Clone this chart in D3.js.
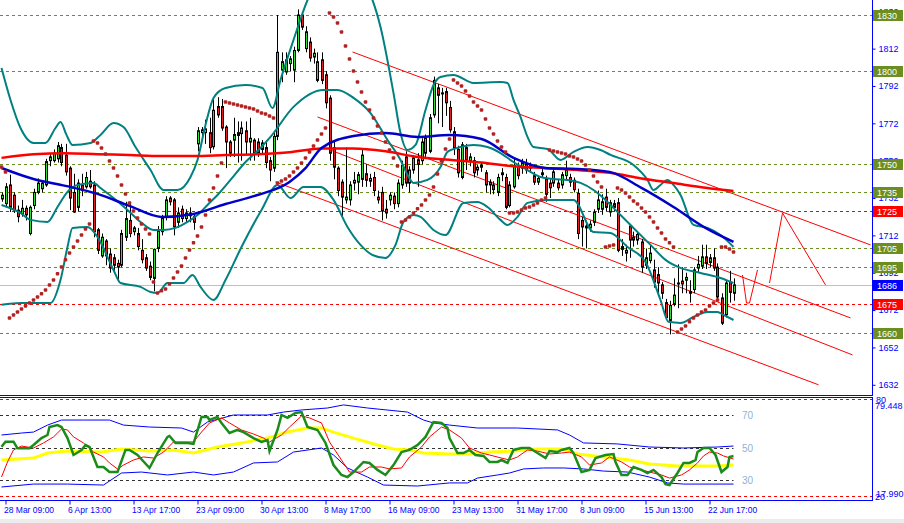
<!DOCTYPE html>
<html><head><meta charset="utf-8">
<script src="https://cdn.jsdelivr.net/npm/d3@7"></script>
<style>
body{margin:0;background:#fff;}
svg{display:block;font-family:"Liberation Sans",Arial,sans-serif;}
</style>
</head><body>
<svg id="c" width="904" height="523"></svg>
<script>
// ---------------- DATA ----------------
const dateLabels = ["28 Mar 09:00","6 Apr 13:00","13 Apr 17:00","23 Apr 09:00","30 Apr 13:00","8 May 17:00","16 May 09:00","23 May 13:00","31 May 17:00","8 Jun 09:00","15 Jun 13:00","22 Jun 17:00"];
const dateTickIdx = [1,17,33,49,65,81,97,113,129,145,161,177];
const priceTicks = [1632,1652,1672,1692,1712,1732,1752,1772,1792,1812,1832];
const oliveLevels = [1830,1800,1750,1735,1705,1695,1660];
const redLevels = [1725,1675];
const currentPrice = 1685.5;
const currentLabel = "1686";

const opens = [1731.5,1729,1739,1733.5,1725.5,1723.5,1726.5,1713,1728,1735,1737,1739,1752,1752,1753,1759,1755,1748,1735,1727,
1739,1738,1741,1739,1715,1701,1709,1702,1700,1697,1696,1711,1720,1714,1713,1704,1700,1695.5,1689,1705,
1714,1722,1732,1731,1719,1726,1721,1724,1722,1761,1767,1767,1767,1759.5,1781,1781,1770,1762,1763,1767,
1766.5,1768,1762,1763,1762,1758,1759,1752,1748,1765,1800.5,1799.5,1804,1800.5,1811,1830,1812,1815.5,1807.5,1795,
1806,1798,1785.5,1759,1748,1740.5,1731,1731,1740,1740.5,1742,1745,1741,1743,1732.5,1735,1726,1731,1733,1729,
1739,1754,1740,1747,1752.5,1752,1756,1757,1776.5,1791,1788,1789,1780.5,1767.5,1758,1743,1759,1752,1752,1747,
1749.5,1745.5,1740.5,1739,1735,1744.5,1743,1728,1738,1749,1748,1750,1749.5,1744,1740.5,1744.5,1742,1740,1740,1740,
1739,1744,1743,1741.5,1734.5,1720,1717,1716,1719,1726,1726,1732.5,1724.5,1729,1729.5,1706,1702.5,1717,1711,1709.5,
1708.5,1696,1698.5,1693.5,1691,1685.5,1676,1666.5,1675,1686,1687.5,1688,1682,1683,1694.5,1695.5,1700.5,1697.5,1700,1695,
1678.5,1669.5,1687,1681];
const highs = [1735,1740,1744.5,1735,1728,1731,1728,1728,1737,1742.5,1741,1753,1756,1758,1762,1761,1761,1749,1745,1742,
1745,1746,1747,1741,1716,1713,1710,1705,1702,1699,1715,1730,1730,1717,1716,1710,1702,1698,1705,1717,
1723,1733,1733,1732,1727,1728,1726,1727,1724,1770,1770,1774,1775,1785,1786,1785,1771,1763,1775,1773,
1773,1773,1775,1764,1764,1763,1763,1754,1768,1830,1810,1810,1808,1813,1833,1831,1824,1818,1812,1810,
1810,1800,1787,1762,1749,1742,1759,1741,1746,1746,1758,1750,1745,1746,1736,1738,1731,1735,1735,1742,
1752,1757,1749,1755,1756,1764,1766,1777,1797,1793,1791,1791,1784,1770,1760,1762,1761,1756,1754,1750,
1751,1747,1742,1741,1745,1748,1745,1741,1753,1751,1753,1753,1751,1746,1744,1748,1744,1742,1748,1742,
1746,1752,1745,1743,1737,1722,1720,1720,1726,1736,1734,1737,1731,1731,1732,1710,1707,1718,1714,1714,
1710,1705,1707,1699,1695,1687,1678,1677,1689,1696.5,1695,1692,1688,1695,1701,1707,1707,1702,1705,1697,
1681,1688,1693,1689];
const lows = [1730,1727,1724.5,1724,1719,1722,1720,1712,1726,1734,1735,1738,1749,1751,1751,1749,1744,1725.5,1724,1725,
1733,1737,1737,1711,1702,1700,1696,1692,1693,1687,1695,1709,1711,1712,1704,1697,1693,1688,1682,1703,
1712,1720,1728,1712,1716,1719,1719,1719,1715,1757,1764,1761,1756,1758,1775,1768,1748,1754,1754,1751,
1752,1755,1752,1752,1754,1756,1748,1741,1746,1763,1794,1798,1800,1794,1810,1822,1810,1805,1804,1794,
1793,1780,1752,1742,1733,1722,1729,1728,1736,1734,1738,1738,1738,1733,1729,1720,1721,1728,1726,1727,
1737,1738,1735,1745,1738,1750,1754,1756,1775,1772,1770,1776,1767,1755,1743,1742,1747,1749,1743,1744,
1746,1735,1734,1734,1733,1741,1726,1727,1737,1742,1745,1745,1746,1739,1739,1743,1730,1732,1738,1736,
1737,1742,1738,1735,1710,1706,1705,1714,1717,1724,1723,1725,1722,1725,1703,1701,1698,1700,1706,1707,
1692,1694,1697,1684,1681,1678,1667,1659,1674,1673,1681,1681,1676,1681,1692,1694,1694,1695,1693,1677,
1664,1668,1676,1677];
const closes = [1733.5,1738,1727,1725.5,1722,1726.5,1723,1727,1735,1740,1740,1751.5,1754,1756,1760,1751,1746,1732,1724.5,1740,
1736,1743,1738,1714,1704,1711,1701,1694.5,1696,1695,1713,1721,1713,1716,1706,1699,1694.5,1689.5,1704.5,1714.5,
1721.5,1731,1730,1716.5,1724,1721,1724,1722.5,1719,1768,1768.5,1769,1759,1779,1776.5,1769.5,1762,1756,1766,1765.5,
1769.5,1762,1764,1756,1756,1761.5,1751,1747,1765,1810,1805,1806,1806.5,1811,1830,1823.5,1821,1807,1809.5,1805,
1795,1783,1756,1748.5,1736,1732.5,1732.5,1739,1741.5,1744.5,1755,1741.5,1742.5,1736,1731,1725,1724,1733.5,1729,1740,
1749.5,1740,1747,1753.5,1750,1762,1764,1775,1795,1787,1788.3,1783,1768.5,1759,1745.5,1760.5,1752.5,1754,1745.5,1748.5,
1748.5,1739,1739,1736.5,1743,1745.5,1727,1739,1749.5,1744,1751,1747,1748,1740.5,1742.5,1745.5,1734,1737.5,1746,1737.5,
1744.5,1747,1740.5,1736.5,1713,1716.5,1716,1718,1724.5,1731,1730,1727,1729.5,1727,1704,1704.5,1704,1709.5,1709.5,1712.5,
1695,1700,1702.5,1687,1686.5,1681,1668,1674.5,1680,1686.5,1686,1689.5,1681,1693.5,1696.5,1700.5,1697,1700,1694.5,1679,
1665,1686.5,1681.5,1685.5];

const sar = [1748.6,1746.0,1667.8,1669.4,1671.0,1672.6,1674.2,1675.8,1677.4,1679.0,1680.7,1682.8,1685.5,1688.1,1691.4,1695.1,1698.9,1702.6,1705.8,1709.0,
1712.2,1715.4,1718.1,1762.6,1761.5,1758.8,1755.6,1751.8,1748.1,1743.8,1739.0,1734.2,1729.4,1725.1,1721.3,1718.1,1715.4,1712.8,1687.1,1681.2,
1682.3,1683.3,1686.0,1689.2,1692.4,1695.6,1699.9,1704.2,1708.0,1711.7,1716.5,1722.9,1731.0,1737.4,1743.8,1750.8,1783.4,1782.9,1782.4,1781.8,
1781.3,1780.8,1780.2,1779.7,1778.6,1777.5,1777.0,1775.9,1774.9,1740.1,1741.1,1742.2,1743.8,1746.0,1748.1,1750.8,1753.5,1756.7,1759.9,1763.1,
1766.3,1769.5,1831.1,1828.9,1825.7,1820.9,1813.4,1806.4,1800.0,1794.1,1788.8,1783.4,1779.1,1774.9,1770.6,1766.8,1762.0,1757.7,1753.5,1749.2,
1719.2,1720.3,1721.9,1724.0,1726.2,1728.3,1731.0,1733.6,1737.9,1744.9,1751.8,1758.3,1763.6,1795.2,1793.6,1792.0,1789.3,1786.6,1783.4,1781.3,
1779.1,1774.3,1769.5,1766.3,1762.6,1759.3,1756.7,1724.0,1724.0,1724.5,1725.6,1726.7,1727.2,1728.3,1729.4,1731.0,1732.0,1757.7,1757.2,1756.7,
1756.1,1755.6,1754.5,1754.0,1752.9,1751.8,1749.7,1747.0,1743.8,1740.6,1737.9,1705.8,1706.3,1706.9,1737.4,1736.3,1734.7,1732.6,1730.4,1728.8,
1726.7,1724.5,1721.9,1719.2,1716.0,1713.3,1710.1,1708.0,1705.8,1660.3,1661.9,1663.5,1665.7,1667.8,1669.4,1671.0,1672.1,1674.2,1675.8,1677.4,
1705.8,1705.8,1704.7,1703.1];

const maSlow = [[0,1753.5],[8,1755.5],[16,1756],[24,1755.5],[32,1755],[40,1754.5],[48,1754.5],[56,1755],[64,1755.5],[72,1756.5],[80,1758.5],[88,1758.5],[96,1757],[104,1754],[112,1752.5],[120,1751],[128,1749],[136,1748],[144,1747],[152,1745.5],[160,1742.5],[168,1740],[176,1737.5],[183,1735.8]];
const maMid = [[0,1748.1],[8,1742.2],[16,1738.5],[24,1734.2],[32,1727.8],[40,1721.9],[48,1723.5],[56,1728.8],[64,1733.6],[72,1740.6],[76,1748],[80,1758.8],[88,1765.2],[96,1766.8],[104,1764.7],[112,1765.8],[120,1763.6],[128,1753.5],[136,1748.1],[144,1747.6],[152,1746],[160,1737.4],[168,1727.2],[176,1716],[183,1708.5]];

const bbUpper = [[0,1801.6],[2.25,1784.5],[4.75,1769.5],[8,1761.5],[11,1761.5],[13.5,1769.5],[14.75,1772.7],[16.25,1765.8],[17.75,1760.4],[22.25,1761.5],[24.75,1765.8],[28,1772.2],[30.5,1770],[33.5,1759.3],[37.25,1747],[40.5,1736.3],[44,1736.3],[47.25,1743.3],[49,1752.4],[51,1771.1],[53,1785.6],[56,1790.9],[61,1792.5],[65.25,1790.9],[67.75,1780.2],[69.75,1795.2],[73,1816.6],[76.5,1838],[79.75,1851.4],[86,1854.1],[91,1846.1],[92.75,1838],[94.75,1823.6],[98,1788.2],[99.75,1766.8],[101.5,1757.7],[103.5,1760.4],[106,1779.1],[108,1792.5],[109.75,1796.8],[113,1797.9],[118,1793.6],[124.75,1794.1],[126.5,1793.6],[128,1784.5],[129.75,1775.4],[131.5,1764.7],[133,1759.3],[136.5,1758.3],[139.75,1752.4],[143,1756.7],[146.5,1759.3],[149.75,1757.7],[152.25,1755.1],[158,1749.7],[161.5,1741.7],[163,1736.3],[164.75,1739],[166.5,1741.7],[168,1739],[169.75,1733.6],[173,1717.6],[176.5,1716],[179.75,1712.2],[183,1705.8]];
const bbMiddle = [[0,1728.3],[4.75,1724],[7.25,1720.3],[11.5,1719.2],[14,1727.2],[16.5,1735.3],[19,1739],[23,1740.1],[24.75,1737.4],[28,1732],[31.5,1725.6],[34.75,1719.2],[38,1714.9],[40.5,1714.9],[43.5,1716],[46.5,1719.2],[49,1722.9],[51.5,1728.3],[54,1733.6],[57.25,1741.7],[61,1751.3],[64.75,1758.8],[67.25,1764.7],[73,1780.8],[80.5,1789.9],[84,1789.9],[88,1785.6],[92.25,1777.5],[96.5,1763.1],[99.75,1752.4],[101.5,1744.4],[103,1740.1],[106.5,1741.7],[109.75,1748.6],[111.5,1756.7],[114.75,1759.3],[118,1760.4],[121.5,1759.3],[124.75,1756.1],[128,1751.3],[131.5,1747],[134.75,1743.3],[138,1742.2],[141.5,1741.7],[144.75,1740.1],[148,1736.3],[151,1731],[154.75,1722.9],[158.5,1714.9],[162.25,1706.9],[166,1698.9],[169.75,1694.6],[174.75,1691.9],[179.75,1689.2],[183,1686.5]];
const bbLower = [[0,1674.8],[4.75,1675.8],[12.25,1675.8],[14.75,1688.1],[16.5,1705.8],[17.75,1716],[21.5,1716.5],[24,1711.2],[28,1693.5],[29.75,1686.5],[34.75,1684.4],[37.25,1681.7],[39,1681.2],[41.5,1686.5],[45.5,1686.5],[47.75,1690.8],[49.75,1684.4],[53,1677.4],[56,1688.1],[60,1705.8],[65,1725.6],[69,1739],[72.25,1732],[75.5,1737.9],[79.75,1737.9],[83,1731],[86.5,1716.5],[89.75,1706.9],[92.75,1701.5],[96,1699.9],[98.5,1706.9],[100.5,1719.2],[103,1722.9],[104.75,1721.9],[108,1714.9],[111,1712.2],[115.5,1729.4],[119,1729.9],[121.5,1727.2],[124.75,1720.3],[126.5,1717.6],[129,1721.9],[131.5,1729.4],[136.5,1731],[143,1731],[148,1713.8],[152.25,1713.3],[156.5,1705.8],[161,1697.8],[164.75,1677.4],[166.75,1665.7],[169.75,1665.1],[173,1668.3],[176.5,1671],[179,1671],[180.5,1669.4],[183,1666.7]];

const channels = [[87.75,1810.2,217.25,1706.9],[79,1775.4,212.25,1667.8],[82.25,1757.7,212.75,1648.0],[68.5,1740.6,204.25,1632.0]];
const projA = [[185.25,1690.8],[186.25,1675.8],[187,1675.8],[189,1693.5]];
const projB = [[192,1686.5],[195.25,1724.0],[206,1685.5]];

const oscLevels = [70,50,30];
const oscMax = 79.448, oscMin = 17.990;
const rsiPts = [[0,50.5],[1,53.6],[3,53.6],[4,49.5],[7,49.5],[8,51.5],[10,55.8],[11.5,57.7],[12,62.6],[14,63.8],[15,62.6],[16.5,55.8],[18,45.4],[20,48.5],[21,51.5],[22,50.3],[24,38],[25.5,38],[27,34.9],[29,34.9],[31,48.5],[32,48.5],[34,45.4],[37,37.4],[39,46.6],[41.5,56.5],[42,57.1],[43.5,52.8],[46.5,52.8],[48,52.2],[50,68.8],[51.5,68.8],[52,66.9],[54,68.8],[55,65.1],[57,58.9],[59,60.8],[60.5,59.5],[63,55.8],[65,53.4],[66.5,54.6],[67,47.8],[69,60.8],[70,70],[71.5,68.2],[73.5,71.2],[75,71.8],[76.5,62.6],[79,60.8],[81,52.8],[83,39.2],[85,33.1],[86.5,31.8],[88,34.9],[90.5,41.1],[92,40.5],[94,36.2],[96,33.1],[98,39.2],[100,47.2],[102,48.5],[104,51.5],[106,56.5],[108,65.7],[110,65.1],[111.5,62],[112,55.8],[114,46.6],[115.5,46.6],[117,48.5],[118.5,45.4],[120.5,44.8],[122,41.1],[124,41.1],[125,42.3],[126.5,40.5],[128,48.5],[130,49.7],[132,49.7],[134,46.6],[136,43.5],[137,47.8],[139,47.2],[140,48.5],[142,49.7],[143,46.6],[145,34.9],[147,36.2],[148.5,43.5],[151,45.4],[153,46],[153.5,41.1],[155,33.1],[156.5,33.1],[158,38],[160,36.2],[161.5,34.3],[163,36.2],[165,31.8],[166,27.5],[167,26.9],[169,34.3],[170.5,40.5],[172,40.5],[173.5,42.3],[174,47.2],[175.5,49.7],[177,49.7],[178.5,45.4],[180,34.9],[181.5,38],[182,44.2],[183,44.8]];
const signalPts = [[0,31.8],[1.5,41.1],[3,48.5],[5,50.9],[6.5,50.3],[8,49.7],[10.5,52.8],[13,56.5],[15,61.4],[16.5,60.8],[18,56.5],[20.5,52.8],[23,47.2],[25.5,44.2],[27,40.5],[29,36.8],[30.5,39.2],[33,42.3],[35.5,44.2],[38,43.5],[40.5,47.2],[43,53.4],[45.5,53.4],[48,53.4],[50,59.5],[52,65.1],[55,68.2],[57,65.1],[60,60.8],[63,58.3],[65.5,55.8],[67,53.4],[70,57.7],[72,62.6],[75,69.4],[77,68.2],[80,65.1],[82,53.4],[85,42.3],[87,34.9],[90,34.9],[92,38],[95,38],[97,36.8],[100,37.4],[102,44.2],[105,50.3],[107,56.5],[110,62.6],[112,60.8],[115,55.8],[117,49.7],[120,46.6],[122,45.4],[125,43.5],[127,42.3],[129,44.2],[131.5,48.5],[134,47.8],[137,46],[140,46.6],[142,47.2],[145,44.2],[147,39.2],[150,40.5],[152,44.2],[155,41.1],[157,38],[160,36.2],[162,34.9],[165,33.1],[167,31.2],[170,33.1],[172,36.2],[174,40.5],[175.5,44.8],[177,47.2],[179,46.6],[180.5,44.8],[183,42.9]];
const slowPts = [[0,42.3],[8,43.5],[11.5,46.6],[16.5,47.8],[25,47.2],[30,49.1],[37,47.8],[43,48.5],[48,46.6],[54,50.3],[60,52.8],[66.5,55.8],[71.5,59.5],[76.5,62],[80,62],[83,59.5],[88,55.8],[94,51.5],[98,49.1],[102,48.5],[105.5,46.6],[112,46],[117,46],[122,47.2],[128,47.8],[134,49.1],[140,49.1],[144,46],[150.5,44.2],[157,42.3],[162,39.8],[169,38.6],[175,38.6],[179,38.6],[183,39.2]];
const bandUpPts = [[0,57.7],[5,58.9],[8,59.5],[11.5,63.8],[15,66.9],[20.5,66.9],[27,66.9],[30.5,63.8],[37,62.6],[45,62],[48,59.5],[51.5,65.7],[58,70],[66.5,70],[70.5,71.8],[75,73.1],[81.5,74.3],[85.5,76.2],[91.5,74.3],[101.5,71.8],[105.5,66.9],[108,65.1],[112,63.8],[119,62],[129,62],[139,60.8],[142,57.7],[145.5,52.8],[154,52.2],[162,50.3],[170.5,49.7],[179,50.3],[183,50.9]];
const bandLoPts = [[0,25.7],[8,27.5],[16.5,27.5],[25.5,26.9],[30,34.3],[35,34.9],[41.5,33.1],[48,34.9],[53,33.1],[58,34.9],[63,40.5],[69,41.1],[73,47.2],[80,49.7],[83,45.4],[86.5,37.4],[91.5,31.8],[95.5,26.9],[104,26.3],[112,28.2],[116.5,28.2],[119,31.2],[124,33.1],[127,34.3],[130.5,36.8],[135.5,37.4],[140.5,37.4],[145.5,36.8],[150.5,35.5],[156.5,34.9],[162,31.8],[166.5,28.2],[170.5,27.5],[183,27.5]];

// ---------------- DRAW ----------------
const svg = d3.select("#c");
const AX = 872.5;
const MAIN_BOTTOM = 395.5;
const x = d3.scaleLinear().domain([0,183]).range([1.5,733.5]);
const y = d3.scaleLinear().domain([1660,1830]).range([332.5,15]);
const yo = d3.scaleLinear().domain([30,70]).range([480,415]);

svg.append("rect").attr("width",904).attr("height",523).attr("fill","#fff");
svg.append("rect").attr("x",0).attr("y",519).attr("width",904).attr("height",4).attr("fill","#ececec");

const defs = svg.append("defs");
defs.append("clipPath").attr("id","mc").append("rect").attr("x",0).attr("y",0).attr("width",872).attr("height",395);
defs.append("clipPath").attr("id","sc").append("rect").attr("x",0).attr("y",397).attr("width",872).attr("height",103);

const main = svg.append("g").attr("clip-path","url(#mc)");
const crisp = v => Math.round(v)+0.5;

main.selectAll("line.ol").data(oliveLevels).join("line")
  .attr("x1",0).attr("x2",872).attr("y1",d=>crisp(y(d))).attr("y2",d=>crisp(y(d)))
  .attr("stroke","#6b8e23").attr("stroke-dasharray","3,3");
main.selectAll("line.rl").data(redLevels).join("line")
  .attr("x1",0).attr("x2",872).attr("y1",d=>crisp(y(d))).attr("y2",d=>crisp(y(d)))
  .attr("stroke","#ff0000").attr("stroke-dasharray","3,3");
main.append("line").attr("x1",0).attr("x2",872).attr("y1",crisp(y(currentPrice))).attr("y2",crisp(y(currentPrice)))
  .attr("stroke","#c0c0c0");

main.selectAll("line.ch").data(channels).join("line")
  .attr("x1",d=>x(d[0])).attr("y1",d=>y(d[1])).attr("x2",d=>x(d[2])).attr("y2",d=>y(d[3]))
  .attr("stroke","#ff0000").attr("stroke-width",1);

const idx = d3.range(closes.length);
const cg = main.append("g");
cg.selectAll("line.w").data(idx).join("line")
  .attr("x1",i=>Math.round(x(i))+0.5).attr("x2",i=>Math.round(x(i))+0.5)
  .attr("y1",i=>y(highs[i])).attr("y2",i=>y(lows[i])).attr("stroke","#000");
cg.selectAll("rect.b").data(idx).join("rect")
  .attr("x",i=>Math.round(x(i))-1+0.5).attr("width",2)
  .attr("y",i=>Math.min(y(opens[i]),y(closes[i])))
  .attr("height",i=>Math.max(1,Math.abs(y(opens[i])-y(closes[i]))))
  .attr("fill",i=>closes[i]>=opens[i]?"#33dd33":"#e41e1e")
  .attr("stroke","#000").attr("stroke-width",1);

const lineP = d3.line().x(d=>x(d[0])).y(d=>y(d[1])).curve(d3.curveMonotoneX);
[bbUpper,bbMiddle,bbLower].forEach(a=>{
  main.append("path").attr("d",lineP(a)).attr("fill","none").attr("stroke","#008080").attr("stroke-width",2);
});
main.append("path").attr("d",lineP(maSlow)).attr("fill","none").attr("stroke","#ff0000").attr("stroke-width",2.5);
main.append("path").attr("d",lineP(maMid)).attr("fill","none").attr("stroke","#0000c8").attr("stroke-width",2.5);

main.selectAll("rect.sar").data(idx).join("rect")
  .attr("x",i=>x(i)-1.75).attr("y",i=>y(sar[i])-1.75).attr("width",3.5).attr("height",3.5).attr("rx",1)
  .attr("fill","#b22222");

const lineL = d3.line().x(d=>x(d[0])).y(d=>y(d[1]));
[projA,projB].forEach(a=>main.append("path").attr("d",lineL(a)).attr("fill","none").attr("stroke","#ff0000").attr("stroke-width",1));

const yAxis = d3.axisRight(y).tickValues(priceTicks).tickSize(3).tickPadding(3).tickFormat(d3.format("d"));
const ya = svg.append("g").attr("transform",`translate(${AX},0)`).call(yAxis);
ya.select(".domain").remove();
ya.selectAll(".tick line").attr("stroke","#0000ff");
ya.selectAll(".tick text").attr("fill","#0000ff").attr("font-size",9).attr("font-family","Liberation Sans, Arial, sans-serif");
svg.append("line").attr("x1",AX).attr("x2",AX).attr("y1",0).attr("y2",396).attr("stroke","#0000ff");
svg.append("line").attr("x1",0).attr("x2",AX).attr("y1",MAIN_BOTTOM).attr("y2",MAIN_BOTTOM).attr("stroke","#0000ff");

function tag(v,txt,col){
  const yy = Math.round(y(v));
  svg.append("rect").attr("x",873).attr("y",yy-5).attr("width",30).attr("height",11).attr("fill",col);
  svg.append("text").attr("x",877).attr("y",yy+4).attr("fill","#fff").attr("font-size",9).text(txt);
}
oliveLevels.forEach(v=>tag(v,String(v),"#6b8e23"));
redLevels.forEach(v=>tag(v,String(v),"#ff0000"));
tag(currentPrice,currentLabel,"#0000ff");

const sub = svg.append("g").attr("clip-path","url(#sc)");
svg.append("line").attr("x1",0).attr("x2",AX).attr("y1",397.5).attr("y2",397.5).attr("stroke","#0000ff");
[80,20].forEach(v=>sub.append("line").attr("x1",0).attr("x2",872).attr("y1",crisp(yo(v))).attr("y2",crisp(yo(v)))
  .attr("stroke","#ff0000").attr("stroke-dasharray","3,3"));
oscLevels.forEach(v=>sub.append("line").attr("x1",0).attr("x2",x(183)).attr("y1",crisp(yo(v))).attr("y2",crisp(yo(v)))
  .attr("stroke","#333").attr("stroke-dasharray","3,3"));
const lineO = d3.line().x(d=>x(d[0])).y(d=>yo(d[1]));
sub.append("path").attr("d",lineO(slowPts)).attr("fill","none").attr("stroke","#ffff00").attr("stroke-width",3);
[bandUpPts,bandLoPts].forEach(a=>sub.append("path").attr("d",lineO(a)).attr("fill","none").attr("stroke","#0000ff").attr("stroke-width",1));
sub.append("path").attr("d",lineO(signalPts)).attr("fill","none").attr("stroke","#ff0000").attr("stroke-width",1);
sub.append("path").attr("d",lineO(rsiPts)).attr("fill","none").attr("stroke","#1a8c1a").attr("stroke-width",2.5);
oscLevels.forEach(v=>svg.append("text").attr("x",742).attr("y",yo(v)+4).attr("fill","#8fb3d0").attr("font-size",10).text(v));

svg.append("line").attr("x1",AX).attr("x2",AX).attr("y1",397).attr("y2",501).attr("stroke","#0000ff");
svg.append("text").attr("x",876).attr("y",403).attr("fill","#0000ff").attr("font-size",9).text("80");
svg.append("text").attr("x",875).attr("y",409).attr("fill","#0000ff").attr("font-size",9).text(oscMax.toFixed(3));
svg.append("text").attr("x",875).attr("y",500).attr("fill","#0000ff").attr("font-size",9).text("20");
svg.append("text").attr("x",876).attr("y",497).attr("fill","#0000ff").attr("font-size",9).text(oscMin.toFixed(3));

const xAxis = d3.axisBottom(x).tickValues(dateTickIdx).tickSize(4).tickPadding(2).tickFormat((d,k)=>dateLabels[k]);
const xa = svg.append("g").attr("transform","translate(0,500.5)").call(xAxis);
xa.select(".domain").remove();
xa.selectAll(".tick line").attr("stroke","#0000ff");
xa.selectAll(".tick text").attr("fill","#0000ff").attr("font-size",8.5).attr("text-anchor","start").attr("dx",-2)
  .attr("font-family","Liberation Sans, Arial, sans-serif");
svg.append("line").attr("x1",0).attr("x2",AX).attr("y1",500.5).attr("y2",500.5).attr("stroke","#0000ff");
</script>
</body></html>
